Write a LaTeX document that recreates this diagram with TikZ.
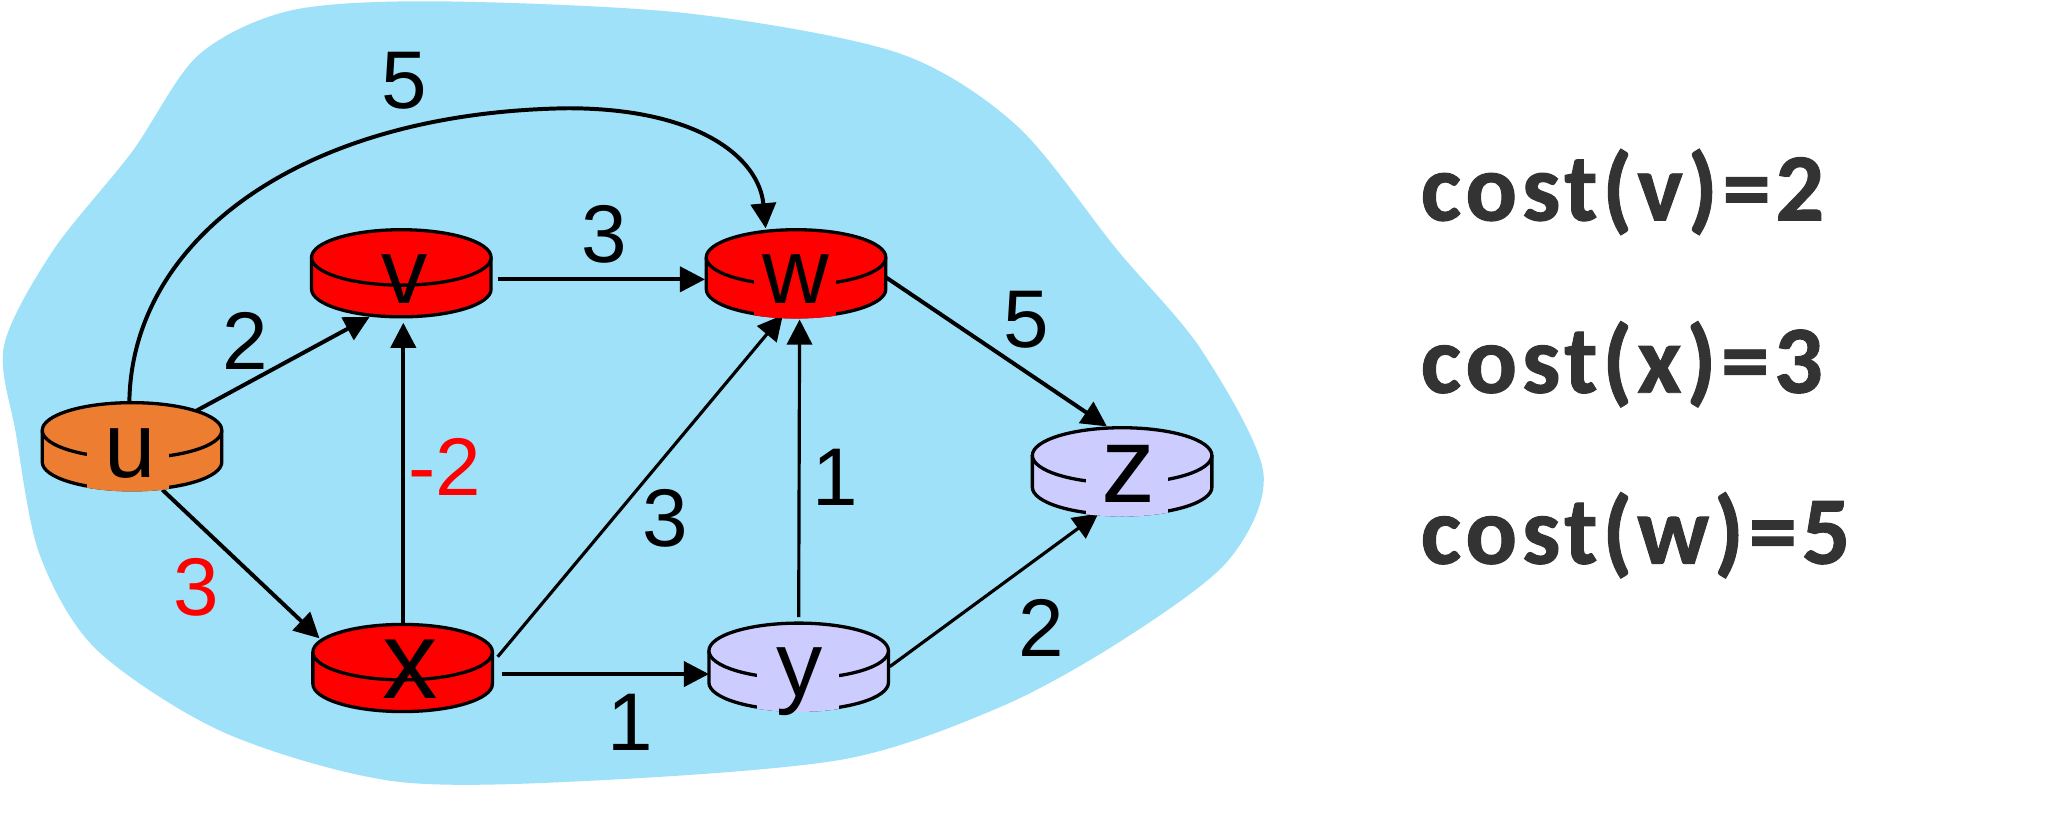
\documentclass[tikz,border=0pt]{standalone}
\usepackage{fontspec}
\setmainfont{Liberation Sans}
\newfontfamily\costfont[LetterSpace=5,FakeBold=1]{Carlito}
\usetikzlibrary{arrows.meta,calc}
\definecolor{bgblue}{RGB}{159,225,249}
\definecolor{rred}{RGB}{255,0,0}
\definecolor{rorange}{RGB}{237,125,49}
\definecolor{rlav}{RGB}{204,204,255}
\definecolor{costgray}{RGB}{51,51,51}
\tikzset{
  rline/.style={draw=black, line width=2.5pt},
  edge/.style={line width=3pt, -{Triangle[length=19pt,width=19pt]}},
  thinedge/.style={edge, line width=2.4pt},
  wlabel/.style={anchor=base, inner sep=0pt, font=\fontsize{62}{62}\selectfont},
  nlabel/.style={anchor=base, inner sep=0pt, font=\fontsize{70}{70}\selectfont},
  biglabel/.style={anchor=base, inner sep=0pt, font=\fontsize{84}{84}\selectfont},
  costtext/.style={anchor=base west, inner sep=0pt, text=costgray, font=\costfont\bfseries\fontsize{73}{73}\selectfont},
  routerpt/.style={inner sep=0pt, outer sep=0pt, minimum size=0pt},
}
\newcommand\drawcyl[3]{%
  \fill[#3] (#1-68,#2) -- (#1-68,#2+24) arc[start angle=180,end angle=0,x radius=68,y radius=21] -- (#1+68,#2) -- cycle;
  \draw[rline] (#1-68,#2) -- (#1-68,#2+24) arc[start angle=180,end angle=0,x radius=68,y radius=21] -- (#1+68,#2);
  \filldraw[fill=#3,rline] (#1,#2) ellipse[x radius=68,y radius=21];
}
\newcommand\drawmask[4]{%
  \begin{scope}
    \clip (#1-70,#2) -- (#1-70,#2+24) arc[start angle=180,end angle=0,x radius=70,y radius=22.3] -- (#1+70,#2) -- cycle;
    \fill[#3] (#4-31,#2+4) rectangle (#4+31,#2+48);
  \end{scope}
}
\begin{document}
\begin{tikzpicture}[x=1pt,y=1pt,yscale=-1]
\useasboundingbox (0,0) rectangle (1565,621.2);
% background blob
\fill[bgblue] plot[smooth cycle] coordinates {
 (330,1) (520,10) (680,40) (770,95) (846,189) (910,265) (957,358)
 (930,425) (850,485) (759,535) (640,575) (455,591) (300,592) (170,555)
 (73,492) (30,420) (12,328) (3,262) (40,190) (100,115) (150,42) (220,8)};
% router anchor points (top ellipse centres)
\node[routerpt] (u) at (100,326) {};
\node[routerpt] (v) at (304,195) {};
\node[routerpt] (w) at (603,195) {};
\node[routerpt] (x) at (305,494) {};
\node[routerpt] (y) at (605,493) {};
\node[routerpt] (z) at (850,345) {};
\coordinate (arctop) at (430,82);
% edges
\draw[edge] ($(u)+(49,-15)$) -- ($(v)+(-24,45)$);
\draw[edge] ($(x)+(0.5,-18)$) -- ($(v)+(1.5,49.5)$);
\draw[edge] ($(u)+(23,45)$) -- ($(x)+(-63,-10.5)$);
\draw[edge] ($(u)+(-2,-22)$) .. controls (100,180) and (230,85) .. (arctop)
  .. controls (530,82) and (575,120) .. ($(w)+(-23,-22)$);
\draw[edge] ($(v)+(73,16.6)$) -- ($(w)+(-69,16.6)$);
\draw[thinedge] ($(x)+(72,3.5)$) -- ($(w)+(-10,43.6)$);
\draw[thinedge] ($(y)+(0,-25.5)$) -- ($(w)+(2.7,47)$);
\draw[edge] ($(x)+(75,16.6)$) -- ($(y)+(-68,17.6)$);
\draw[edge] ($(w)+(68,15)$) -- ($(z)+(-11.5,-22)$);
\draw[thinedge] ($(y)+(69,12)$) -- ($(z)+(-18,44)$);
% routers
\drawcyl{100}{326}{rorange}
\drawmask{100}{326}{rorange}{97}
\drawcyl{304}{195}{rred}
\drawcyl{603}{195}{rred}
\drawmask{603}{195}{rred}{602}
\drawcyl{305}{494}{rred}
\drawcyl{605}{493}{rlav}
\drawmask{605}{493}{rlav}{604.6}
\drawcyl{850}{345}{rlav}
\drawmask{850}{345}{rlav}{854}
% router labels
\node[nlabel] (ul) at (98.6,362) {u};
\node[nlabel] (vl) at (306.6,229.7) {v};
\node[nlabel] (wl) at (603,229.6) {w};
\node[biglabel] (xl) at (310.5,529) {x};
\node[nlabel] (yl) at (606,527.8) {y};
\node[biglabel, font=\fontsize{82}{82}\selectfont] (zl) at (854.5,381) {z};
% edge labels
\node[wlabel] (l1) at (306,82.5) {5};
\node[wlabel] (l2) at (458,198.5) {3};
\node[wlabel] (l3) at (186,279.8) {2};
\node[wlabel, text=rred] (l4) at (337,375.5) {-2};
\node[wlabel, text=rred] (l5) at (148.5,466.2) {3};
\node[wlabel] (l6) at (504,414) {3};
\node[wlabel] (l7) at (633,382.6) {1};
\node[wlabel] (l8) at (477.7,568.7) {1};
\node[wlabel] (l9) at (777.5,263) {5};
\node[wlabel] (l10) at (788.6,497.5) {2};
% cost texts
\node[costtext] (c1) at (1076,167) {cost(v)=2};
\node[costtext] (c2) at (1076,297.5) {cost(x)=3};
\node[costtext] (c3) at (1076,427) {cost(w)=5};
\end{tikzpicture}
\end{document}
